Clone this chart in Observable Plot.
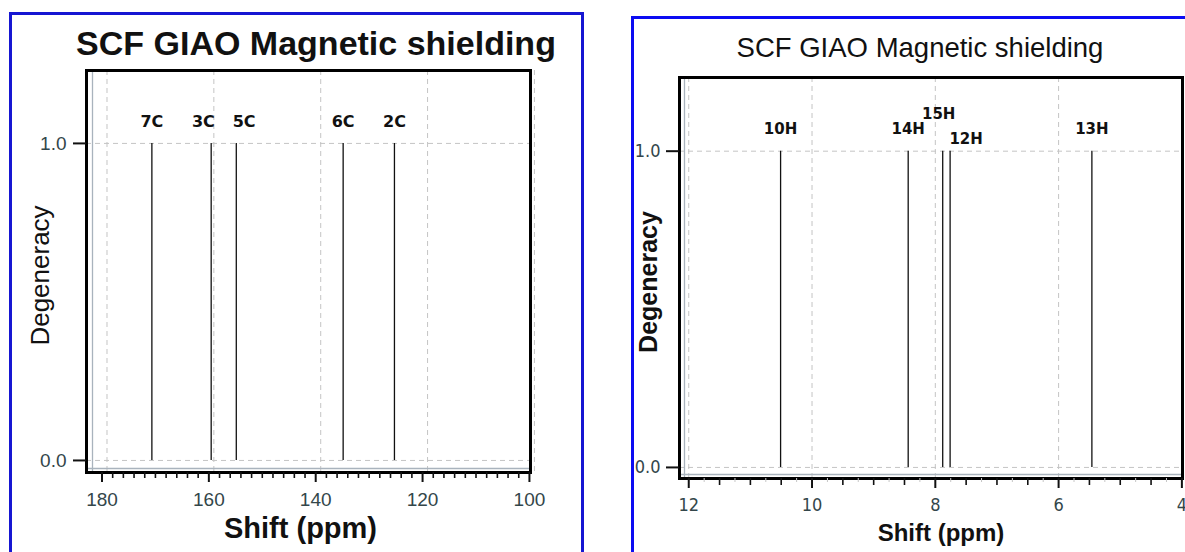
<!DOCTYPE html>
<html>
<head>
<meta charset="utf-8">
<script src="https://cdn.jsdelivr.net/npm/d3@7"></script>
<script src="https://cdn.jsdelivr.net/npm/@observablehq/plot@0.6"></script>
<style>
  html, body { margin: 0; padding: 0; background: #fff; width: 1185px; height: 552px; overflow: hidden; }
  .panel { position: absolute; box-sizing: border-box; border: 3px solid #1616d2; }
  .title { position: absolute; white-space: nowrap; color: #111; font-family: "Liberation Sans", Arial, sans-serif; transform: translateX(-50%); }
  .chart { position: absolute; }
  .chart svg { background: transparent; }
</style>
</head>
<body>
<div class="panel" style="left:9px; top:12px; width:575px; height:620px;"></div>
<div class="panel" style="left:631px; top:16px; width:620px; height:620px; border-color:#0c0cf2;"></div>
<div class="title" style="left:316px; top:26px; font-size:34px; line-height:34px; font-weight:bold;">SCF GIAO Magnetic shielding</div>
<div class="title" style="left:920px; top:34px; font-size:27.5px; line-height:27.5px;">SCF GIAO Magnetic shielding</div>
<div class="chart" id="carbon" style="left:13px; top:60px;"></div>
<div class="chart" id="proton" style="left:635px; top:66px;"></div>
<script>
// 13C shieldings (ppm) and their degeneracies
const carbonLabels = ["7C", "3C", "5C", "6C", "2C"];
const carbonShifts = [171.6, 160.5, 155.8, 135.8, 126.2];
const carbonDegeneracy = [1, 1, 1, 1, 1];

// 1H shieldings (ppm) and their degeneracies
const protonLabels = ["10H", "14H", "15H", "12H", "13H"];
const protonShifts = [10.51, 8.44, 7.88, 7.76, 5.46];
const protonDegeneracy = [1, 1, 1, 1, 1];

// axis ticks
const carbonShiftTicks = [180, 160, 140, 120, 100];
const protonShiftTicks = [12, 10, 8, 6, 4];
const degeneracyTicks = [0, 1];

// Place peak labels: very close peaks are split over two rows,
// labels in the same row are nudged apart horizontally.
function layoutLabels(peaks, px, fontSize, stackGap, pad) {
  const items = peaks.map(p => ({...p, px: px(p.shift), level: 0}));
  items.sort((a, b) => a.px - b.px);
  for (let i = 1; i < items.length; i++) {
    if (items[i].px - items[i - 1].px < stackGap && items[i - 1].level === 0) {
      items[i - 1].level = 1;
      items[i].level = -1;
    }
  }
  const w = d => d.label.length * 0.68 * fontSize;
  for (const level of [1, 0, -1]) {
    const row = items.filter(d => d.level === level);
    row.forEach(d => d.lx = d.px);
    for (let it = 0; it < 60; it++) {
      for (let i = 1; i < row.length; i++) {
        const need = (w(row[i]) + w(row[i - 1])) / 2 + pad;
        const gap = row[i].lx - row[i - 1].lx;
        if (gap < need) {
          const s = (need - gap) / 2;
          row[i - 1].lx -= s;
          row[i].lx += s;
        }
      }
    }
  }
  return items.map(d => ({...d, lx: px.invert(d.lx)}));
}

function drawSpectrum(cfg) {
  const peaks = cfg.labels.map((label, i) => ({label, shift: cfg.shifts[i], degeneracy: cfg.degeneracy[i]}));
  const px = d3.scaleLinear(cfg.xDomain, [cfg.marginLeft, cfg.width - cfg.marginRight]);
  const placed = layoutLabels(peaks, px, cfg.labelSize, 14, cfg.labelPad);

  const lo = d3.min(cfg.majorTicks), hi = d3.max(cfg.majorTicks);
  const minor = d3.range(lo, hi + 1e-9, cfg.minorStep)
    .map(v => +v.toFixed(3))
    .filter(v => !cfg.majorTicks.includes(v));
  const micro = cfg.microStep
    ? d3.range(lo, hi + 1e-9, cfg.microStep).map(v => +v.toFixed(3))
        .filter(v => !cfg.majorTicks.includes(v) && !minor.includes(v))
    : [];
  const grid = cfg.majorTicks.filter(v => v > Math.min(...cfg.xDomain) && v < Math.max(...cfg.xDomain));

  const tickText = {fontFamily: cfg.tickFont, fontSize: cfg.tickSize, fill: "#33464a"};
  const labelText = {fontFamily: "DejaVu Sans, Verdana, sans-serif", fontWeight: "bold", fontSize: cfg.labelSize, fill: "#111", lineAnchor: "middle"};
  const dash = {stroke: "#c4c4c4", strokeOpacity: 1, strokeWidth: 1, strokeDasharray: "5,4"};

  return Plot.plot({
    width: cfg.width,
    height: cfg.height,
    marginLeft: cfg.marginLeft,
    marginRight: cfg.marginRight,
    marginTop: cfg.marginTop,
    marginBottom: cfg.marginBottom,
    style: {background: "transparent", fontFamily: "Liberation Sans, Arial, sans-serif", overflow: "visible"},
    x: {domain: cfg.xDomain, axis: null, label: null},
    y: {domain: cfg.yDomain, axis: null, label: null},
    marks: [
      Plot.gridX(grid, {...dash, dx: cfg.shift}),
      Plot.gridY(degeneracyTicks, dash),
      // inner bevel of the plotting area
      Plot.ruleX([cfg.xDomain[0]], {dx: cfg.bevelX, stroke: "#a9b3bd", strokeWidth: 1.3}),
      Plot.ruleY([cfg.yDomain[0]], {dy: -cfg.bevelY, stroke: "#a9b3bd", strokeWidth: 1.3}),
      // stick spectrum
      Plot.ruleX(peaks, {x: "shift", y1: 0, y2: "degeneracy", stroke: "#111", strokeWidth: 1.3, dx: cfg.shift}),
      Plot.text(placed.filter(d => d.level === 0), {x: "lx", y: "degeneracy", text: "label", dy: -22, dx: cfg.shift, ...labelText}),
      Plot.text(placed.filter(d => d.level === 1), {x: "lx", y: "degeneracy", text: "label", dy: -37, dx: cfg.shift - 4, ...labelText}),
      Plot.text(placed.filter(d => d.level === -1), {x: "lx", y: "degeneracy", text: "label", dy: -12, dx: cfg.shift + 16, ...labelText}),
      Plot.frame({stroke: "#000", strokeWidth: 3}),
      // axes
      Plot.axisX(cfg.majorTicks, {tickSize: 10, tickPadding: cfg.xPad, strokeWidth: 2, stroke: "#111", tickFormat: d => String(d), label: null, ...tickText}),
      Plot.axisX(minor, {tickSize: cfg.minorSize, strokeWidth: 1.6, stroke: "#111", tickFormat: () => "", label: null}),
      Plot.axisX(micro, {tickSize: 4, strokeWidth: 1, stroke: "#c6c6c6", tickFormat: () => "", label: null}),
      Plot.axisY(degeneracyTicks, {tickSize: 13, tickPadding: cfg.yPad, strokeWidth: 2, stroke: "#111", tickFormat: d3.format(".1f"), label: null, ...tickText}),
      // axis titles
      Plot.text(["Shift (ppm)"], {text: d => d, frameAnchor: "bottom", textAnchor: "middle", dx: cfg.xTitleDx, dy: cfg.xTitleDy, lineAnchor: "middle",
        fontSize: cfg.xTitleSize, fontWeight: "bold", fill: "#111", fontFamily: "Liberation Sans, Arial, sans-serif"}),
      Plot.text(["Degeneracy"], {text: d => d, frameAnchor: "left", textAnchor: "middle", dx: cfg.yTitleDx, dy: 4, rotate: -90, lineAnchor: "middle",
        fontSize: cfg.yTitleSize, fontWeight: cfg.yTitleWeight, fill: "#111", fontFamily: "Liberation Sans, Arial, sans-serif"})
    ]
  });
}

document.getElementById("carbon").append(drawSpectrum({
  labels: carbonLabels, shifts: carbonShifts, degeneracy: carbonDegeneracy,
  majorTicks: carbonShiftTicks, minorStep: 2, minorSize: 6, microStep: 0,
  width: 567, height: 492, marginLeft: 73, marginRight: 50, marginTop: 10, marginBottom: 80,
  xDomain: [182.9, 99.8], yDomain: [-0.038, 1.23],
  shift: 5, bevelX: 6, bevelY: 4,
  tickFont: "Liberation Sans, Arial, sans-serif", tickSize: 19, xPad: 10, yPad: 7,
  labelSize: 16, labelPad: 19,
  xTitleDx: -8, xTitleDy: 56, xTitleSize: 29,
  yTitleDx: -46, yTitleSize: 26, yTitleWeight: "normal"
}));

document.getElementById("proton").append(drawSpectrum({
  labels: protonLabels, shifts: protonShifts, degeneracy: protonDegeneracy,
  majorTicks: protonShiftTicks, minorStep: 0.5, minorSize: 7, microStep: 0.25,
  width: 550, height: 486, marginLeft: 44, marginRight: 3, marginTop: 11, marginBottom: 74,
  xDomain: [12.15, 3.99], yDomain: [-0.035, 1.233],
  shift: 0, bevelX: 5, bevelY: 4,
  tickFont: "Liberation Sans Narrow, DejaVu Sans Condensed, Arial Narrow, sans-serif", tickSize: 18, xPad: 10, yPad: 6,
  labelSize: 15, labelPad: 12,
  xTitleDx: 10, xTitleDy: 55, xTitleSize: 24,
  yTitleDx: -31, yTitleSize: 25, yTitleWeight: "bold"
}));
</script>
</body>
</html>
